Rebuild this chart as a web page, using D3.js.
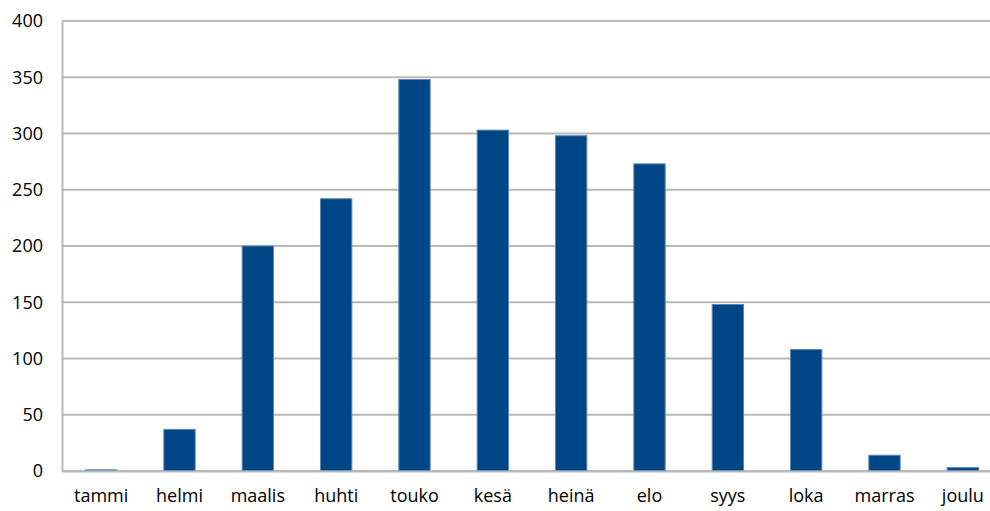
<!DOCTYPE html>
<html>
<head>
<meta charset="utf-8">
<script src="https://cdn.jsdelivr.net/npm/d3@7"></script>
<style>
  body { margin: 0; background: #fff; overflow: hidden; }
  text { font-family: "Open Sans", "Noto Sans", sans-serif; fill: #000; }
</style>
</head>
<body>
<svg id="chart"></svg>
<script>
let months = ["tammi", "helmi", "maalis", "huhti", "touko", "kesä", "heinä", "elo", "syys", "loka", "marras", "joulu"];
let counts = [1, 37, 200, 242, 348, 303, 298, 273, 148, 108, 14, 3];
let yTicks = [0, 50, 100, 150, 200, 250, 300, 350, 400];

// plot area runs a little past the right edge of the picture, as in the original
let margin = {top: 21, right: -12, bottom: 40, left: 62},
    width = 990 - margin.left - margin.right,
    height = 511 - margin.top - margin.bottom;

let svg = d3.select("#chart")
    .attr("width", 990)
    .attr("height", 511)
    .append("g")
    .attr("transform", "translate(" + margin.left + "," + margin.top + ")");

let x = d3.scaleBand()
    .range([0, width])
    .domain(months)
    .paddingInner(0.6)
    .paddingOuter(0.3);

let y = d3.scaleLinear()
    .range([height, 0])
    .domain([0, 400]);

// gridlines
svg.append("g")
    .selectAll("line")
    .data(yTicks)
    .enter()
    .append("line")
    .attr("x1", 0)
    .attr("x2", width)
    .attr("y1", function (d) { return y(d); })
    .attr("y2", function (d) { return y(d); })
    .attr("stroke", "#b9b9b9")
    .attr("stroke-width", 2);

// bars
svg.selectAll(".bar")
    .data(months)
    .enter()
    .append("rect")
    .attr("class", "bar")
    .attr("x", function (d) { return x(d); })
    .attr("y", function (d, i) { return y(counts[i]); })
    .attr("width", x.bandwidth())
    .attr("height", function (d, i) { return height - y(counts[i]); })
    .style("fill", "#004586")
    .style("stroke", "#5b87b5")
    .style("stroke-width", 1);

// left axis
let yAxis = svg.append("g")
    .call(d3.axisLeft(y).tickValues(yTicks).tickSize(0).tickPadding(19));
yAxis.select(".domain").attr("stroke", "#b9b9b9").attr("stroke-width", 2);
yAxis.selectAll("text").style("font-size", "18px");

// bottom axis
let xAxis = svg.append("g")
    .attr("transform", "translate(0," + height + ")")
    .call(d3.axisBottom(x).tickSize(0).tickPadding(18));
xAxis.select(".domain").attr("stroke", "#b9b9b9").attr("stroke-width", 2);
xAxis.selectAll("text").style("font-size", "18px");
</script>
</body>
</html>
